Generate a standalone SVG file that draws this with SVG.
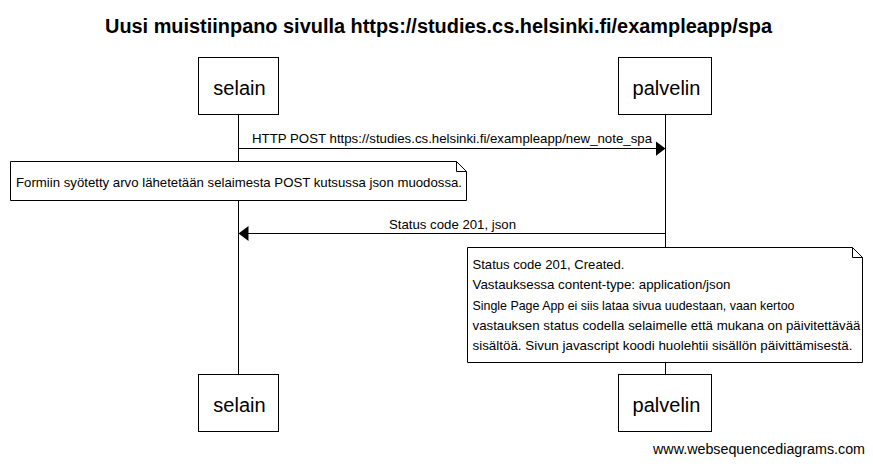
<svg xmlns="http://www.w3.org/2000/svg" width="873" height="466" viewBox="0 0 873 466">
<defs>
<style>
text{font-family:"Liberation Sans",Arial,sans-serif;fill:#000}
.title{font-size:20px;font-weight:bold}
.actor{font-size:20px;text-anchor:middle}
.box{fill:#fff;stroke:#000;stroke-width:1}
.life{stroke:#000;stroke-width:1}
.msg{stroke:#000;stroke-width:1;fill:none}
.lbl{font-size:13px}
.note{font-size:13px}
.wm{font-size:14px}
</style>
<marker id="ah" markerWidth="11" markerHeight="16" refX="10" refY="8" orient="auto" markerUnits="userSpaceOnUse">
<path d="M0,0.5 L10,8 L0,15.5 Z" fill="#000"/>
</marker>
</defs>
<rect width="873" height="466" fill="#fff"/>
<text class="title" x="105" y="33" textLength="667" lengthAdjust="spacingAndGlyphs">Uusi muistiinpano sivulla https://studies.cs.helsinki.fi/exampleapp/spa</text>
<g id="lifelines">
<line class="life" x1="238.5" y1="114" x2="238.5" y2="375"/>
<line class="life" x1="665.5" y1="114" x2="665.5" y2="375"/>
</g>
<g id="selain-top"><rect class="box" x="198.5" y="57.5" width="80" height="57"/><text class="actor" x="239.5" y="95">selain</text></g>
<g id="palvelin-top"><rect class="box" x="618.5" y="57.5" width="93" height="57"/><text class="actor" x="666.5" y="95">palvelin</text></g>
<g id="connectors">
<line class="msg" x1="238.5" y1="148.5" x2="665.5" y2="148.5" marker-end="url(#ah)"/>
<text class="lbl" x="252" y="142.5" textLength="400" lengthAdjust="spacingAndGlyphs">HTTP POST https://studies.cs.helsinki.fi/exampleapp/new_note_spa</text>
<line class="msg" x1="665.5" y1="233.5" x2="238.5" y2="233.5" marker-end="url(#ah)"/>
<text class="lbl" x="389" y="229" textLength="127" lengthAdjust="spacingAndGlyphs">Status code 201, json</text>
</g>
<g id="note1">
<path class="box" d="M10.5,161.5 H456.5 L466.5,171.5 V200.5 H10.5 Z"/>
<path class="msg" d="M456.5,161.5 V171.5 H466.5"/>
<text class="note" x="16" y="186.5" textLength="446" lengthAdjust="spacingAndGlyphs">Formiin syötetty arvo lähetetään selaimesta POST kutsussa json muodossa.</text>
</g>
<g id="note2">
<path class="box" d="M467.5,247.5 H852.5 L862.5,257.5 V362.5 H467.5 Z"/>
<path class="msg" d="M852.5,247.5 V257.5 H862.5"/>
<text class="note" x="472.5" y="268.5" textLength="152" lengthAdjust="spacingAndGlyphs">Status code 201, Created.</text>
<text class="note" x="472.5" y="289" textLength="258" lengthAdjust="spacingAndGlyphs">Vastauksessa content-type: application/json</text>
<text class="note" x="472.5" y="309.5" textLength="322" lengthAdjust="spacingAndGlyphs">Single Page App ei siis lataa sivua uudestaan, vaan kertoo</text>
<text class="note" x="472.5" y="330" textLength="388" lengthAdjust="spacingAndGlyphs">vastauksen status codella selaimelle että mukana on päivitettävää</text>
<text class="note" x="472.5" y="350" textLength="380" lengthAdjust="spacingAndGlyphs">sisältöä. Sivun javascript koodi huolehtii sisällön päivittämisestä.</text>
</g>
<g id="selain-bottom"><rect class="box" x="198.5" y="374.5" width="80" height="57"/><text class="actor" x="239.5" y="412">selain</text></g>
<g id="palvelin-bottom"><rect class="box" x="618.5" y="374.5" width="93" height="57"/><text class="actor" x="666.5" y="412">palvelin</text></g>
<text class="wm" x="865" y="453.5" text-anchor="end" textLength="212" lengthAdjust="spacingAndGlyphs">www.websequencediagrams.com</text>
</svg>
